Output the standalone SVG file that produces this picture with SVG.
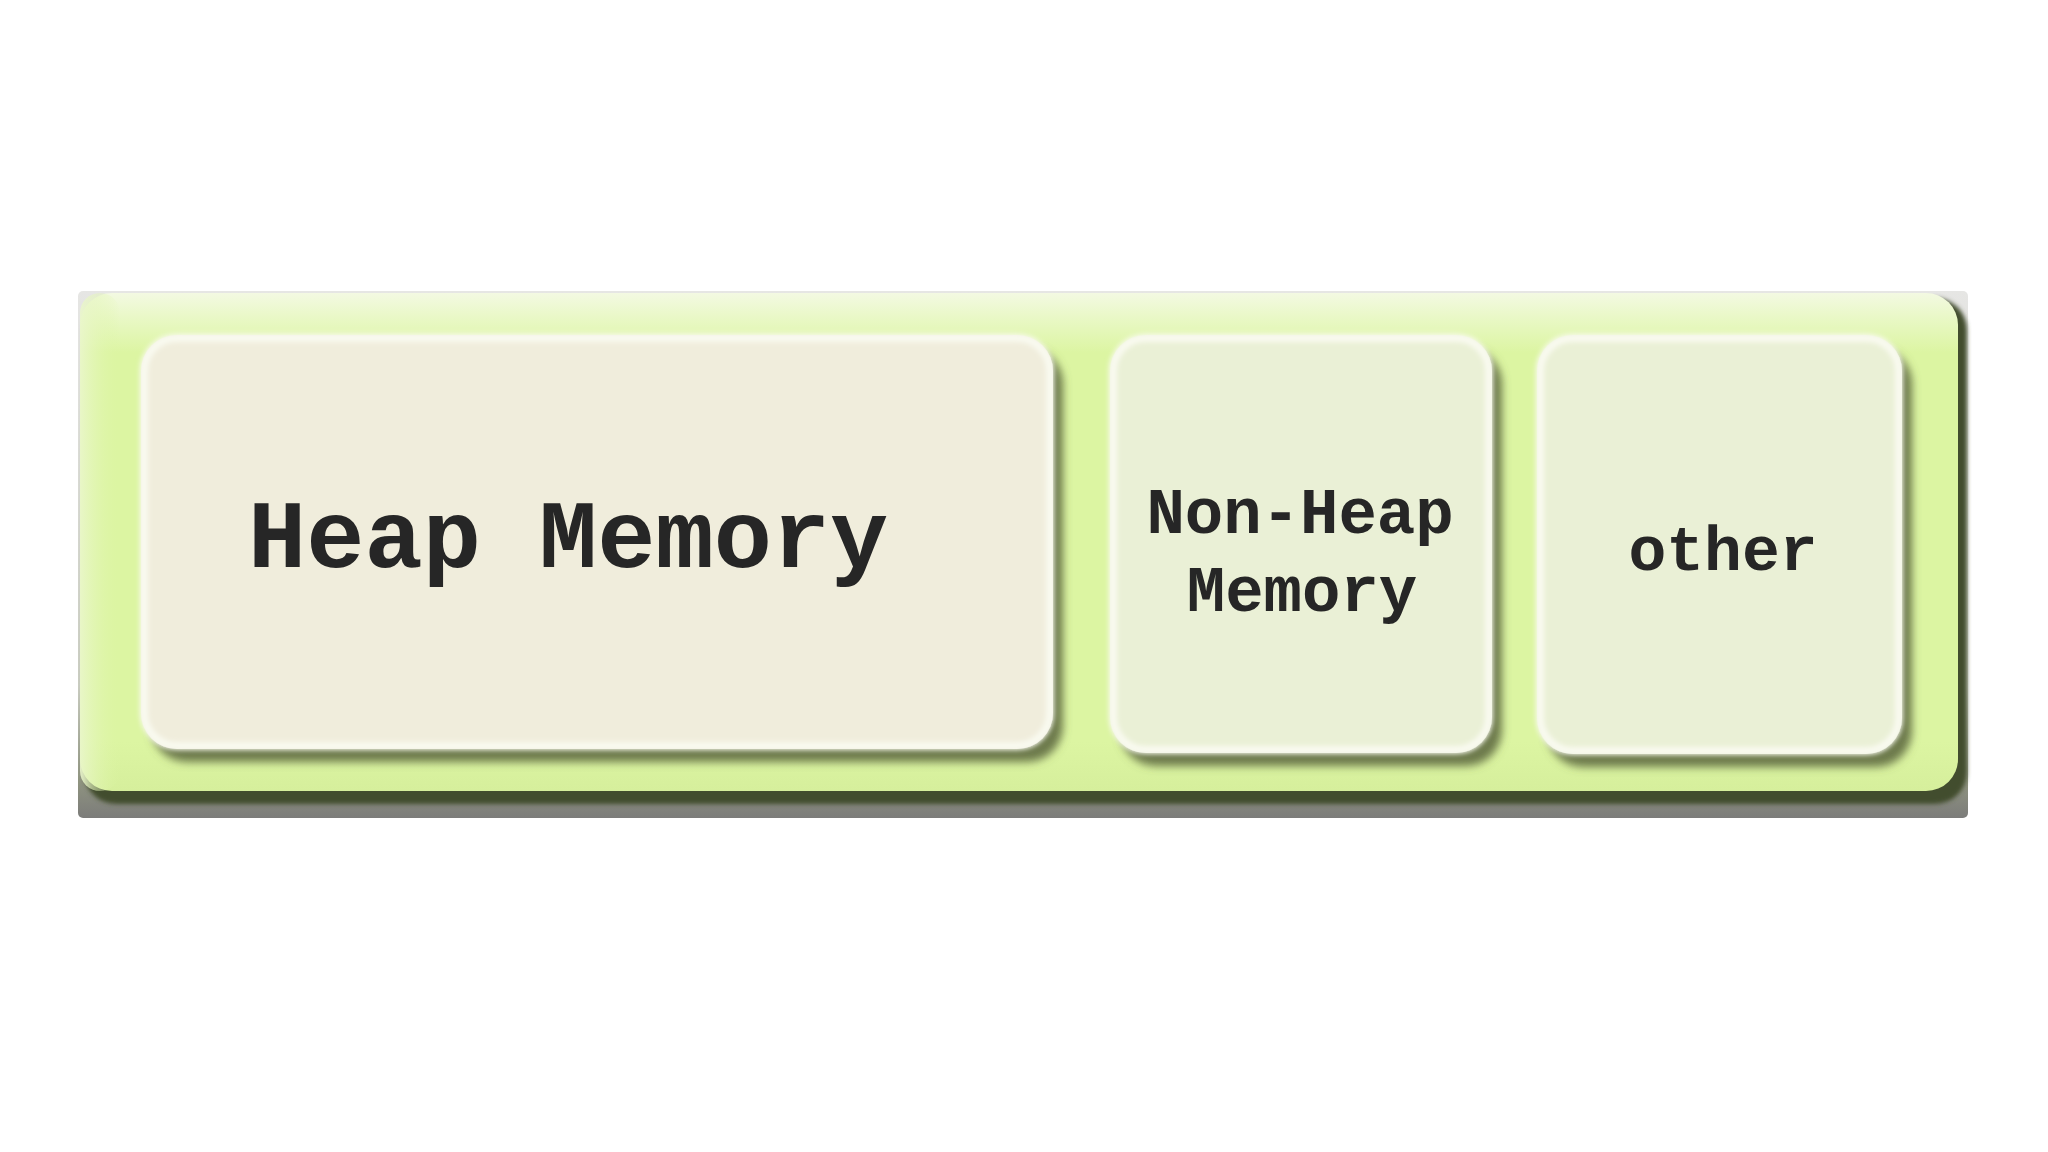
<svg xmlns="http://www.w3.org/2000/svg" width="2048" height="1152" viewBox="0 0 2048 1152">
  <defs>
    <linearGradient id="greyBack" x1="0" y1="0" x2="0" y2="1">
      <stop offset="0" stop-color="#e6e6e4"/>
      <stop offset="0.75" stop-color="#c9ccc0"/>
      <stop offset="0.93" stop-color="#8f9480"/>
      <stop offset="1" stop-color="#7c7c7a"/>
    </linearGradient>
    <linearGradient id="greenBody" x1="0" y1="0" x2="0" y2="1">
      <stop offset="0" stop-color="#f3f9e2"/>
      <stop offset="0.05" stop-color="#e9f8c6"/>
      <stop offset="0.12" stop-color="#dcf5a2"/>
      <stop offset="0.9" stop-color="#dcf5a2"/>
      <stop offset="1" stop-color="#d6ef9c"/>
    </linearGradient>
    <linearGradient id="greenLeft" x1="0" y1="0" x2="1" y2="0">
      <stop offset="0" stop-color="#eaf6cc" stop-opacity="0.9"/>
      <stop offset="1" stop-color="#dcf5a2" stop-opacity="0"/>
    </linearGradient>
    <filter id="outerShadow" x="-5%" y="-5%" width="110%" height="115%">
      <feGaussianBlur stdDeviation="2"/>
    </filter>
    <filter id="boxShadow" x="-10%" y="-10%" width="130%" height="130%">
      <feDropShadow dx="10" dy="13" stdDeviation="4" flood-color="#5a653e" flood-opacity="0.85"/>
    </filter>
    <filter id="soft" x="-5%" y="-5%" width="110%" height="110%">
      <feGaussianBlur stdDeviation="2.5"/>
    </filter>
  </defs>
  <style>
    .label { font-family: "Courier New", "Liberation Mono", "DejaVu Sans Mono", monospace; font-weight: bold; fill: #262626; }
    .rim { fill: none; stroke: #f9faf0; stroke-width: 8; filter: url(#soft); }
  </style>
  <rect width="2048" height="1152" fill="#ffffff"/>

  <g id="container">
    <rect x="78" y="291" width="1890" height="527" rx="5" fill="url(#greyBack)"/>
    <rect x="84" y="298" width="1883" height="506" rx="32" fill="#434d2f" filter="url(#outerShadow)"/>
    <rect x="80" y="293" width="1878" height="498" rx="32" fill="url(#greenBody)"/>
    <rect x="80" y="293" width="40" height="498" rx="20" fill="url(#greenLeft)"/>
  </g>

  <g id="heap-memory">
    <rect x="141" y="335" width="912" height="414" rx="36" fill="#f0eddc" filter="url(#boxShadow)"/>
    <rect class="rim" x="144" y="338" width="906" height="408" rx="33"/>
    <text class="label" x="248" y="567" font-size="97">Heap Memory</text>
  </g>

  <g id="non-heap-memory">
    <rect x="1110" y="335" width="382" height="418" rx="36" fill="#eaf0d6" filter="url(#boxShadow)"/>
    <rect class="rim" x="1113" y="338" width="376" height="412" rx="33"/>
    <text class="label" x="1300" y="533" font-size="64" text-anchor="middle">Non-Heap</text>
    <text class="label" x="1302" y="611" font-size="64" text-anchor="middle">Memory</text>
  </g>

  <g id="other">
    <rect x="1537" y="335" width="365" height="419" rx="36" fill="#eaf0d6" filter="url(#boxShadow)"/>
    <rect class="rim" x="1540" y="338" width="359" height="413" rx="33"/>
    <text class="label" x="1723" y="570" font-size="63" text-anchor="middle">other</text>
  </g>

  <g id="connectors"/>
</svg>
